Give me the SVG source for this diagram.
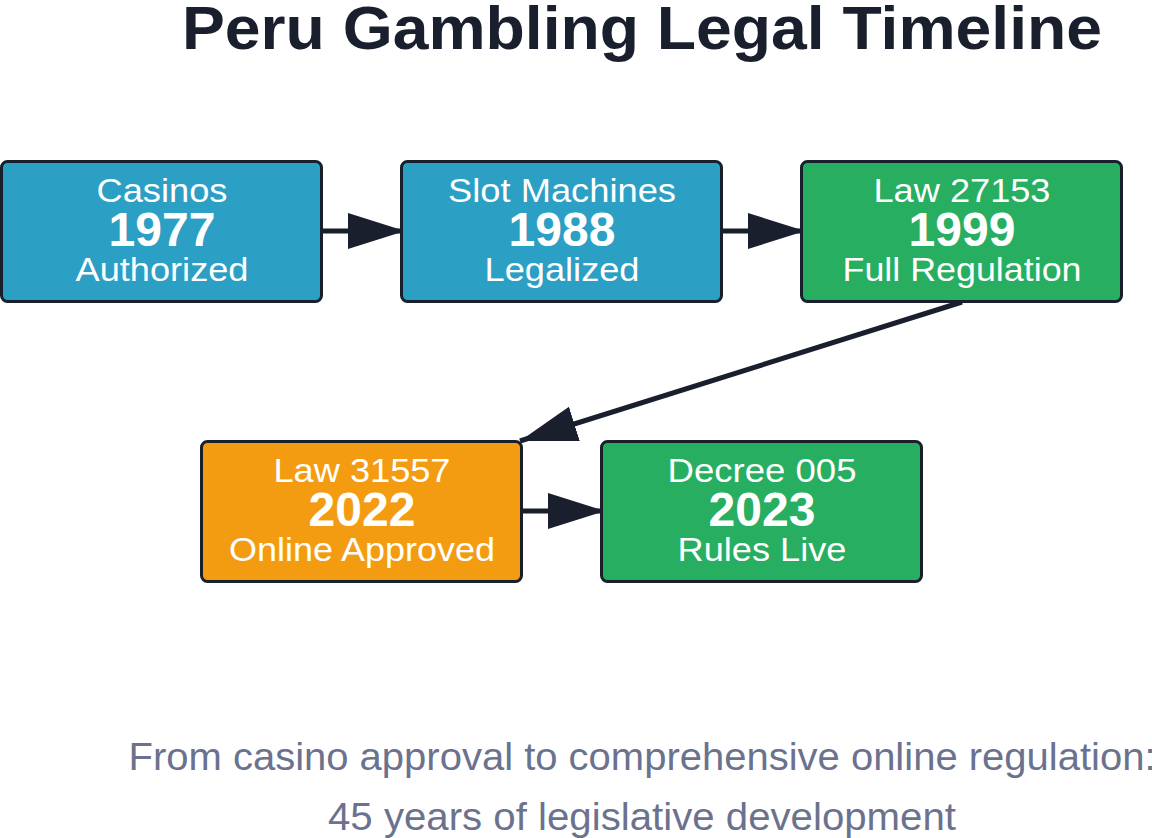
<svg xmlns="http://www.w3.org/2000/svg" width="1152" height="838" viewBox="0 0 1152 838">
<defs>
<marker id="arr" markerWidth="57" markerHeight="36" refX="57" refY="18" orient="auto" markerUnits="userSpaceOnUse">
<path d="M0,0 L57,18 L0,36 Z" fill="#1a1f2e"/>
</marker>
<style>
.box{stroke:#1a1f2e;stroke-width:3}
.blue{fill:#2b9fc4}
.green{fill:#27ae60}
.orange{fill:#f39c12}
.t{font-family:"Liberation Sans",Arial,sans-serif;fill:#ffffff;text-anchor:middle}
.s{font-size:34px}
.y{font-size:48px;font-weight:bold}
.c{stroke:#1a1f2e;stroke-width:5;fill:none}
.f{font-family:"Liberation Sans",Arial,sans-serif;font-size:38px;fill:#6b728e;text-anchor:middle}
</style>
</defs>
<rect width="1152" height="838" fill="#ffffff"/>
<text x="642" y="49" font-family="Liberation Sans,Arial,sans-serif" font-size="61" font-weight="bold" fill="#1a1f2e" text-anchor="middle" textLength="920" lengthAdjust="spacingAndGlyphs">Peru Gambling Legal Timeline</text>
<g id="connectors">
<line class="c" x1="322" y1="231" x2="405" y2="231" marker-end="url(#arr)"/>
<line class="c" x1="722" y1="231" x2="805" y2="231" marker-end="url(#arr)"/>
<line class="c" x1="962" y1="302" x2="520" y2="441" marker-end="url(#arr)"/>
<line class="c" x1="522" y1="511" x2="605" y2="511" marker-end="url(#arr)"/>
</g>
<g id="n1">
<rect class="box blue" x="1.5" y="161.5" width="320" height="140" rx="6"/>
<text class="t s" x="162" y="201.5" textLength="131" lengthAdjust="spacingAndGlyphs">Casinos</text>
<text class="t y" x="162" y="246">1977</text>
<text class="t s" x="162" y="281" textLength="173" lengthAdjust="spacingAndGlyphs">Authorized</text>
</g>
<g id="n2">
<rect class="box blue" x="401.5" y="161.5" width="320" height="140" rx="6"/>
<text class="t s" x="562" y="201.5" textLength="228" lengthAdjust="spacingAndGlyphs">Slot Machines</text>
<text class="t y" x="562" y="246">1988</text>
<text class="t s" x="562" y="281" textLength="155" lengthAdjust="spacingAndGlyphs">Legalized</text>
</g>
<g id="n3">
<rect class="box green" x="801.5" y="161.5" width="320" height="140" rx="6"/>
<text class="t s" x="962" y="201.5" textLength="177" lengthAdjust="spacingAndGlyphs">Law 27153</text>
<text class="t y" x="962" y="246">1999</text>
<text class="t s" x="962" y="281" textLength="239" lengthAdjust="spacingAndGlyphs">Full Regulation</text>
</g>
<g id="n4">
<rect class="box orange" x="201.5" y="441.5" width="320" height="140" rx="6"/>
<text class="t s" x="362" y="481.5" textLength="177" lengthAdjust="spacingAndGlyphs">Law 31557</text>
<text class="t y" x="362" y="526">2022</text>
<text class="t s" x="362" y="561" textLength="266" lengthAdjust="spacingAndGlyphs">Online Approved</text>
</g>
<g id="n5">
<rect class="box green" x="601.5" y="441.5" width="320" height="140" rx="6"/>
<text class="t s" x="762" y="481.5" textLength="189" lengthAdjust="spacingAndGlyphs">Decree 005</text>
<text class="t y" x="762" y="526">2023</text>
<text class="t s" x="762" y="561" textLength="169" lengthAdjust="spacingAndGlyphs">Rules Live</text>
</g>
<text class="f" x="642" y="770" textLength="1027" lengthAdjust="spacingAndGlyphs">From casino approval to comprehensive online regulation:</text>
<text class="f" x="642" y="830" textLength="628" lengthAdjust="spacingAndGlyphs">45 years of legislative development</text>
</svg>
